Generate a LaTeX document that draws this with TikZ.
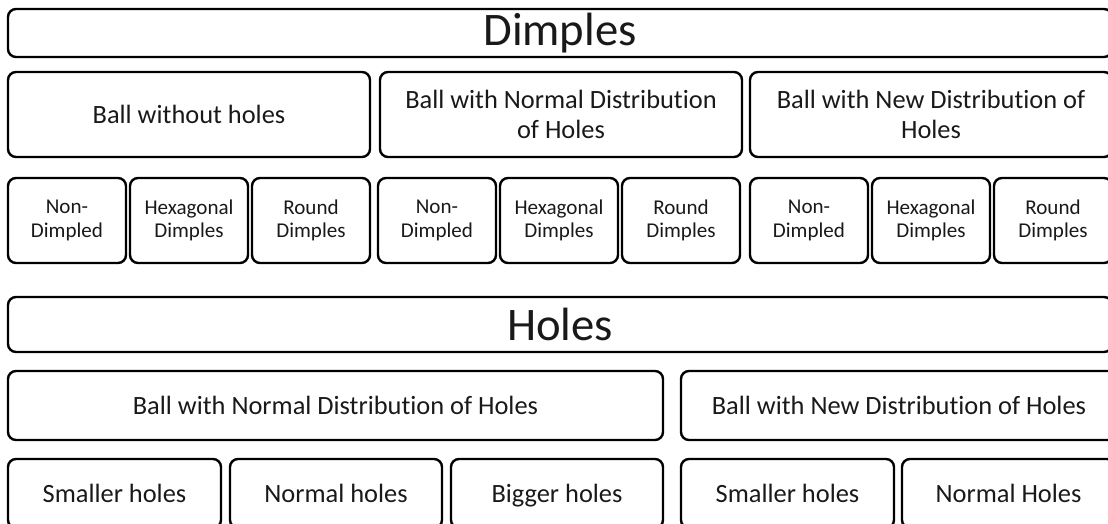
\documentclass[tikz,border=0pt]{standalone}
\usepackage{fontspec}
\setmainfont{Carlito}[Ligatures=NoCommon]
\usepackage{tikz}

\newcommand{\titlesize}{\fontsize{35}{42}\selectfont}
\newcommand{\midsize}{\fontsize{19.8}{22}\selectfont}
\newcommand{\smallsize}{\fontsize{15.8}{17.6}\selectfont}

\tikzset{
  cell/.style 2 args={draw=black, line width=1.8pt, rounded corners=6pt,
    minimum width=#1*0.75pt, minimum height=#2*0.75pt, inner sep=0pt,
    align=center, text=black!90},
  title/.style={cell={1104}{48}, font=\titlesize},
  group/.style={cell={#1}{85}, font=\midsize},
  leaf/.style={cell={118}{85}, font=\smallsize},
  wide/.style={cell={#1}{69}, font=\midsize, text height=13.8pt, text depth=1pt}
}

\begin{document}
\begin{tikzpicture}[x=0.75pt, y=-0.75pt]
\useasboundingbox (0,0) rectangle (1108,524);
\clip (0,0) rectangle (1108,524);

% dimples part
\node[title] (dimples) at (560,33) {Dimples};
\node[group=362] (noholes) at (189,114.5) {Ball without holes};
\node[group=362] (normdist) at (561,114.5) {Ball with Normal Distribution\\of Holes};
\node[group=362] (newdist) at (931,114.5) {Ball with New Distribution of\\Holes};

\foreach \x/\n in {67/a, 437/b, 809/c} {
  \node[leaf] (nondimpled-\n) at (\x,220.5) {Non-\\Dimpled};
  \node[leaf] (hexagonal-\n) at (\x+122,220.5) {Hexagonal\\Dimples};
  \node[leaf] (round-\n) at (\x+244,220.5) {Round\\Dimples};
}

% holes part
\node[title, minimum height=55*0.75pt] (holes) at (560,324.5) {Holes};
\node[wide=655] (holesnorm) at (335.5,405.5) {Ball with Normal Distribution of Holes};
\node[wide=436] (holesnew) at (899,405.5) {Ball with New Distribution of Holes};

\node[wide=213] (smaller-a) at (114.5,493.5) {Smaller holes};
\node[wide=212] (normal-a) at (336,493.5) {Normal holes};
\node[wide=212] (bigger-a) at (557,493.5) {Bigger holes};
\node[wide=213] (smaller-b) at (787.5,493.5) {Smaller holes};
\node[wide=213] (normal-b) at (1008.5,493.5) {Normal Holes};
\end{tikzpicture}
\end{document}
